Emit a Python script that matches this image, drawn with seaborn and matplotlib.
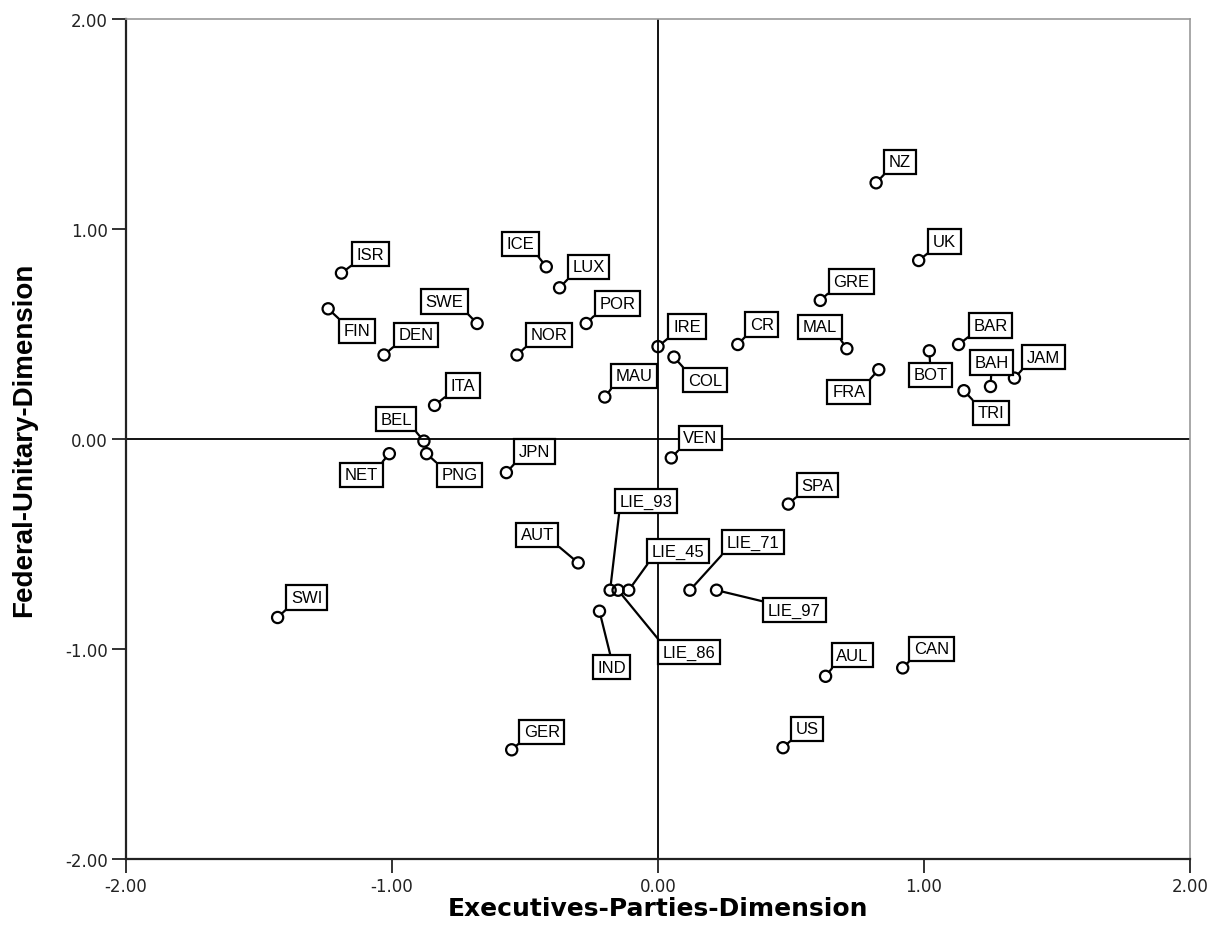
import matplotlib
matplotlib.use('Agg')
import matplotlib.pyplot as plt
import seaborn as sns
import pandas as pd

# country codes and their two dimension scores
countries = ['NZ', 'UK', 'ISR', 'ICE', 'LUX', 'FIN', 'SWE', 'POR', 'GRE', 'DEN',
             'NOR', 'IRE', 'COL', 'CR', 'MAL', 'BAR', 'BOT', 'JAM', 'BAH', 'TRI',
             'FRA', 'MAU', 'ITA', 'BEL', 'PNG', 'NET', 'JPN', 'VEN', 'SPA', 'AUT',
             'LIE_93', 'LIE_45', 'LIE_71', 'LIE_97', 'LIE_86', 'IND', 'SWI', 'CAN',
             'AUL', 'GER', 'US']
exec_parties = [0.82, 0.98, -1.19, -0.42, -0.37, -1.24, -0.68, -0.27, 0.61, -1.03,
                -0.53, 0.00, 0.06, 0.30, 0.71, 1.13, 1.02, 1.34, 1.25, 1.15,
                0.83, -0.20, -0.84, -0.88, -0.87, -1.01, -0.57, 0.05, 0.49, -0.30,
                -0.18, -0.11, 0.12, 0.22, -0.15, -0.22, -1.43, 0.92,
                0.63, -0.55, 0.47]
federal_unitary = [1.22, 0.85, 0.79, 0.82, 0.72, 0.62, 0.55, 0.55, 0.66, 0.40,
                   0.40, 0.44, 0.39, 0.45, 0.43, 0.45, 0.42, 0.29, 0.25, 0.23,
                   0.33, 0.20, 0.16, -0.01, -0.07, -0.07, -0.16, -0.09, -0.31, -0.59,
                   -0.72, -0.72, -0.72, -0.72, -0.72, -0.82, -0.85, -1.09,
                   -1.13, -1.48, -1.47]

# where each label box sits relative to its point (pixels)
label_offsets = [(24, 21), (26, 19), (29, 19), (-26, 23), (29, 21), (29, -22), (-33, 22),
                 (31, 20), (31, 19), (32, 20), (32, 20), (29, 20), (31, -23), (24, 20),
                 (-27, 22), (32, 19), (1, -24), (29, 21), (1, 24), (27, -22), (-30, -22),
                 (29, 21), (28, 20), (-28, 22), (33, -21), (-28, -21), (28, 21), (29, 20),
                 (29, 19), (-41, 28), (36, 89), (49, 39), (63, 48), (78, -20), (71, -62),
                 (12, -56), (29, 20), (29, 19), (27, 21), (30, 18), (24, 19)]

df = pd.DataFrame({'country': countries, 'x': exec_parties, 'y': federal_unitary})

sns.set_style('white')
plt.rcParams['font.family'] = ['Liberation Sans', 'DejaVu Sans']
plt.rcParams['text.color'] = 'black'
plt.rcParams['axes.labelcolor'] = 'black'

fig = plt.figure(figsize=(12.27, 9.53), dpi=100)
ax = fig.add_axes([126 / 1227, 1 - 860 / 953, (1190 - 126) / 1227, (860 - 20) / 953])

ax.axhline(0, color='black', lw=1.3, zorder=1)
ax.axvline(0, color='black', lw=1.3, zorder=1)

sns.scatterplot(data=df, x='x', y='y', ax=ax, marker='o', s=65,
                facecolor='none', edgecolor='black', linewidth=1.6, zorder=3)

for name, px, py, (dx, dy) in zip(countries, exec_parties, federal_unitary, label_offsets):
    rx = 0.5 if abs(dx) < 15 else (0 if dx > 0 else 1)
    ry = 0.5 if abs(dy) < 10 else (0 if dy > 0 else 1)
    ax.annotate(name, xy=(px, py), xytext=(dx, dy), textcoords='offset pixels',
                ha='center', va='center', fontsize=12, color='black', zorder=4,
                bbox=dict(boxstyle='square,pad=0.28', fc='white', ec='black', lw=1.6),
                arrowprops=dict(arrowstyle='-', color='black', lw=1.6,
                                relpos=(rx, ry), shrinkA=0, shrinkB=4))

ax.set_xlim(-2, 2)
ax.set_ylim(-2, 2)
ticks = [-2, -1, 0, 1, 2]
ax.set_xticks(ticks)
ax.set_yticks(ticks)
ax.set_xticklabels([f'{t:.2f}' for t in ticks], fontsize=12, family='DejaVu Sans', color='#222222')
ax.set_yticklabels([f'{t:.2f}' for t in ticks], fontsize=12, family='DejaVu Sans', color='#222222')
ax.tick_params(direction='out', length=10, width=1.3, color='#222222', left=True, bottom=True, pad=3)

for side in ['left', 'bottom']:
    ax.spines[side].set_color('#222222')
    ax.spines[side].set_linewidth(1.6)
for side in ['top', 'right']:
    ax.spines[side].set_color('#999999')
    ax.spines[side].set_linewidth(1.2)

ax.set_xlabel('Executives-Parties-Dimension', fontsize=18, fontweight='bold', family='DejaVu Sans')
ax.set_ylabel('Federal-Unitary-Dimension', fontsize=20, fontweight='bold', family='Liberation Sans')
ax.xaxis.label.set_va('center')
ax.yaxis.label.set_va('center')
ax.xaxis.set_label_coords(0.5, (860 - 909) / 840)
ax.yaxis.set_label_coords((24 - 126) / 1064, 0.5)

fig.savefig('out.png', dpi=100)
